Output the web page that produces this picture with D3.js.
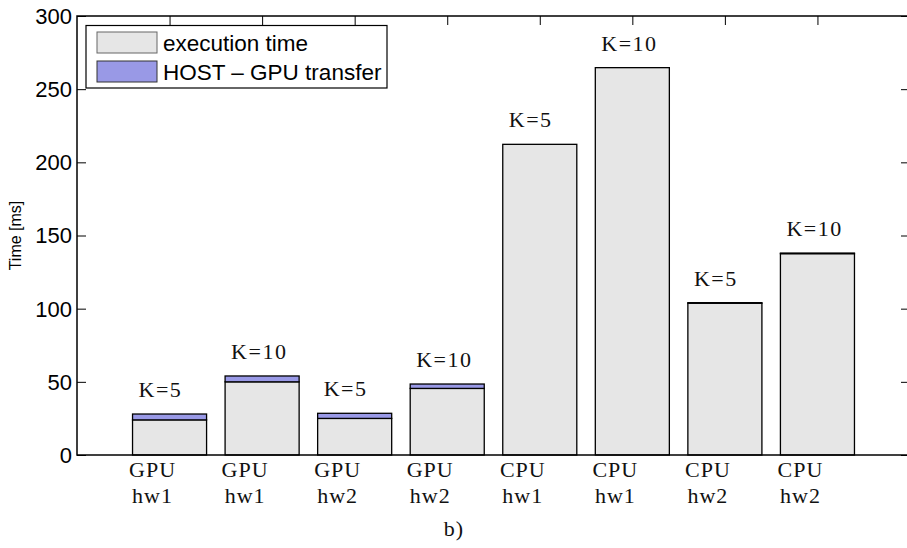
<!DOCTYPE html>
<html><head><meta charset="utf-8">
<script src="https://cdn.jsdelivr.net/npm/d3@7"></script>
<style>body{margin:0;background:#fff}svg{display:block}</style>
</head><body>
<svg id="c" width="907" height="548"></svg>
<script>
const devices = ["GPU","GPU","GPU","GPU","CPU","CPU","CPU","CPU"];
const hardware = ["hw1","hw1","hw2","hw2","hw1","hw1","hw2","hw2"];
const kLabels = ["K=5","K=10","K=5","K=10","K=5","K=10","K=5","K=10"];
const execTime = [24, 50, 25, 45.5, 212.3, 264.7, 103.7, 137.6];
const transfer = [4, 4, 3.5, 3, 0, 0, 0.4, 0.4];
const yTicks = [0, 50, 100, 150, 200, 250, 300];
const seriesNames = ["execution time", "HOST \u2013 GPU transfer"];
const colors = ["#e6e6e6", "#9999e6"];

const svg = d3.select("#c");
const L = 77, R = 910, T = 16, B = 455;
const x = d3.scaleLinear().domain([0, 9]).range([L, R]);
const y = d3.scaleLinear().domain([0, 300]).range([B, T]);
const bw = (x(1) - x(0)) * 0.8;
const serif = "'Liberation Serif', 'DejaVu Serif', serif";
const sans = "'Liberation Sans', Arial, sans-serif";

const data = execTime.map((e, i) => ({i, e, t: transfer[i]}));

// bars
const g = svg.append("g");
g.selectAll("rect.exec").data(data).join("rect")
  .attr("x", d => x(d.i + 1) - bw / 2).attr("width", bw)
  .attr("y", d => y(d.e)).attr("height", d => y(0) - y(d.e))
  .attr("fill", colors[0]).attr("stroke", "#000").attr("stroke-width", 1.3);
g.selectAll("rect.tr").data(data.filter(d => d.t > 0)).join("rect")
  .attr("x", d => x(d.i + 1) - bw / 2).attr("width", bw)
  .attr("y", d => y(d.e + d.t)).attr("height", d => y(d.e) - y(d.e + d.t))
  .attr("fill", colors[1]).attr("stroke", "#000").attr("stroke-width", 1.3);

// axes: ticks inward
const axL = d3.axisRight(y).tickValues(yTicks).tickSize(9).tickFormat("");
svg.append("g").attr("transform", `translate(${L},0)`).call(axL);
const axR = d3.axisLeft(y).tickValues(yTicks).tickSize(9).tickFormat("");
svg.append("g").attr("transform", `translate(${R},0)`).call(axR);
const axT = d3.axisBottom(x).tickValues(d3.range(1, 9)).tickSize(9).tickFormat("");
svg.append("g").attr("transform", `translate(0,${T})`).call(axT);
svg.selectAll(".domain").remove();
svg.selectAll(".tick line").attr("stroke", "#000").attr("stroke-width", 1);
// frame
svg.append("rect").attr("x", L).attr("y", T).attr("width", R - L).attr("height", B - T)
  .attr("fill", "none").attr("stroke", "#000").attr("stroke-width", 1.5);

// y tick labels
svg.append("g").selectAll("text").data(yTicks).join("text")
  .attr("x", L - 5).attr("y", d => y(d)).attr("dy", "0.36em")
  .attr("text-anchor", "end").attr("font-family", sans).attr("font-size", 22)
  .text(d => d);
svg.append("text").attr("transform", `translate(21,${(T + B) / 2}) rotate(-90)`)
  .attr("text-anchor", "middle").attr("font-family", sans).attr("font-size", 16)
  .text("Time [ms]");

// K labels
svg.append("g").selectAll("text").data(data).join("text")
  .attr("x", d => x(d.i + 1) - 31).attr("y", d => y(d.e + d.t) - 17)
  .attr("font-family", serif).attr("font-size", 22).attr("letter-spacing", 1.5)
  .attr("fill", "#111")
  .text(d => kLabels[d.i]);

// x labels
const xl = svg.append("g").selectAll("g").data(data).join("g")
  .attr("transform", d => `translate(${x(d.i + 1) - 17},0)`);
xl.append("text").attr("y", 477).attr("text-anchor", "middle")
  .attr("font-family", serif).attr("font-size", 22).attr("letter-spacing", 1)
  .attr("fill", "#111").text(d => devices[d.i]);
xl.append("text").attr("y", 503).attr("text-anchor", "middle")
  .attr("font-family", serif).attr("font-size", 22).attr("letter-spacing", 1)
  .attr("fill", "#111").text(d => hardware[d.i]);

svg.append("text").attr("x", 454).attr("y", 536).attr("text-anchor", "middle")
  .attr("font-family", serif).attr("font-size", 22).attr("letter-spacing", 1)
  .attr("fill", "#111").text("b)");

// legend
const lg = svg.append("g");
lg.append("rect").attr("x", 86).attr("y", 25.5).attr("width", 301).attr("height", 62.5)
  .attr("fill", "#fff").attr("stroke", "#000").attr("stroke-width", 1.2);
seriesNames.forEach((n, k) => {
  lg.append("rect").attr("x", 97).attr("y", 32 + k * 29).attr("width", 60).attr("height", 21)
    .attr("fill", colors[k]).attr("stroke", k === 0 ? "#666" : "#333").attr("stroke-width", 1);
  lg.append("text").attr("x", 163).attr("y", 51 + k * 29)
    .attr("font-family", sans).attr("font-size", 22.5).text(n);
});
</script>
</body></html>
